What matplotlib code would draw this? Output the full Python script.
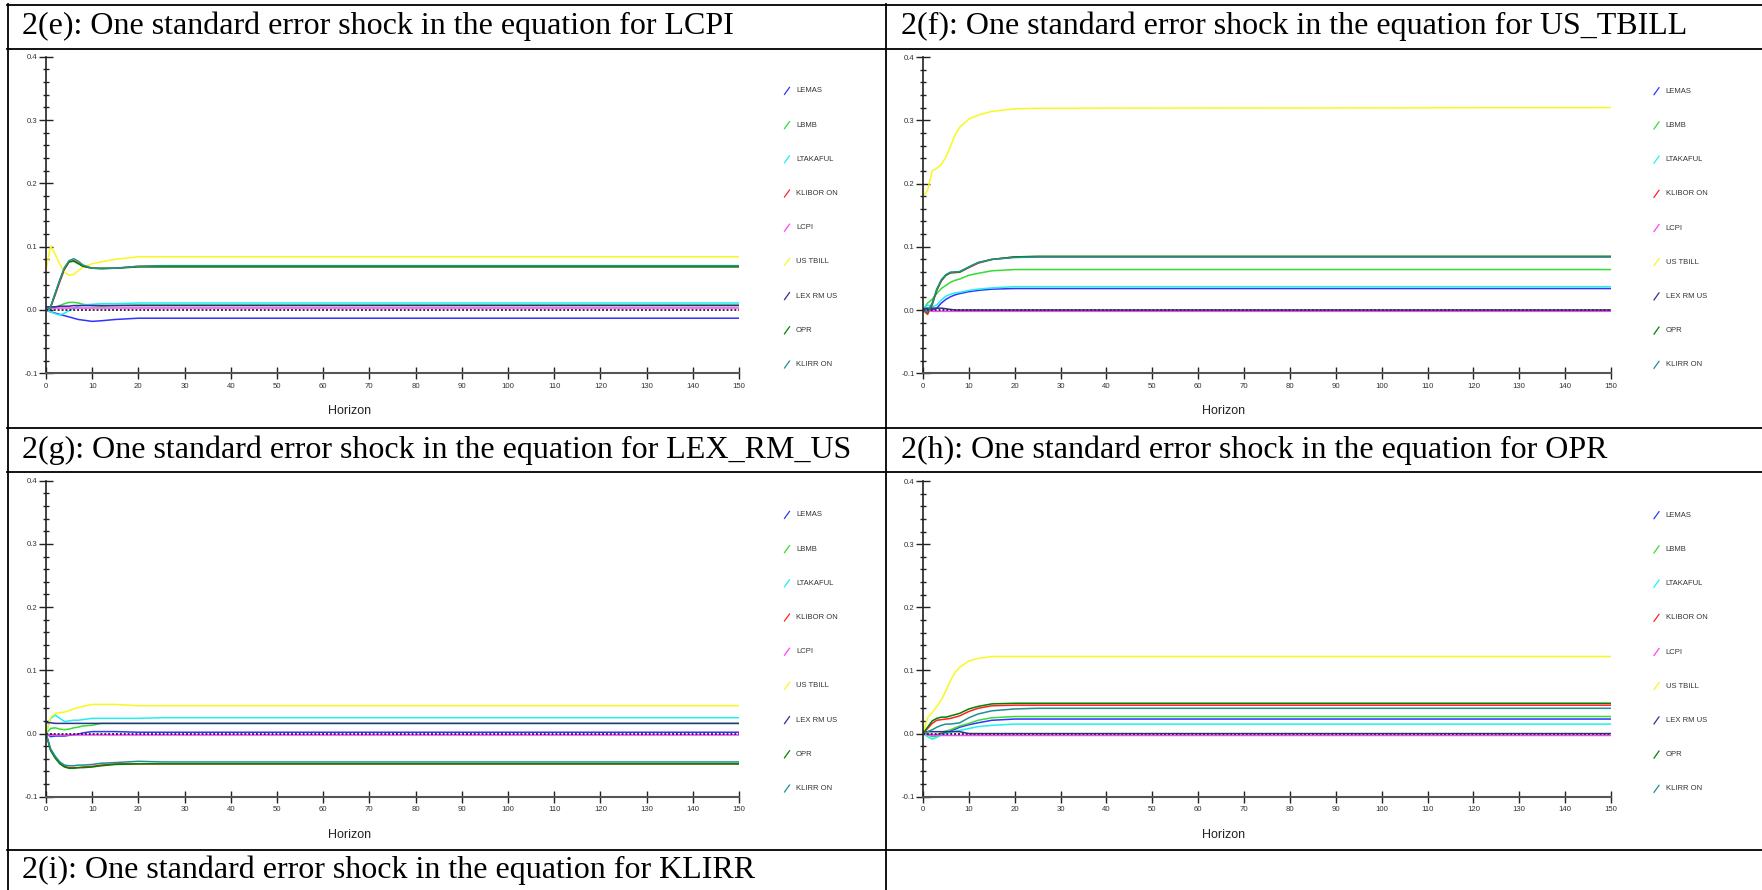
import matplotlib
matplotlib.use("Agg")
import matplotlib.pyplot as plt
from matplotlib.lines import Line2D
from matplotlib.ticker import MultipleLocator, FormatStrFormatter

# horizons at which the impulse responses are tabulated (flat after 25)
horizon = [0, 1, 2, 3, 4, 5, 6, 7, 8, 10, 12, 15, 20, 25, 150]

variables = ["LEMAS", "LBMB", "LTAKAFUL", "KLIBOR ON", "LCPI",
             "US TBILL", "LEX RM US", "OPR", "KLIRR ON"]
colors = ["#3333ff", "#33dd33", "#20f0f0", "#ff2020", "#ff40ff",
          "#f8f820", "#303090", "#008000", "#209090"]

# responses, one row per variable in the order above
shock_lcpi = [
    [0.000, -0.003, -0.005, -0.007, -0.009, -0.011, -0.013, -0.015, -0.016, -0.018, -0.017, -0.015, -0.013, -0.013, -0.013],
    [0.000, 0.002, 0.004, 0.007, 0.010, 0.012, 0.012, 0.011, 0.009, 0.007, 0.006, 0.007, 0.008, 0.008, 0.008],
    [0.000, -0.003, -0.006, -0.008, -0.005, -0.001, 0.003, 0.006, 0.008, 0.009, 0.010, 0.010, 0.011, 0.011, 0.011],
    [0.000, 0.004, 0.024, 0.045, 0.064, 0.076, 0.078, 0.074, 0.069, 0.066, 0.066, 0.066, 0.069, 0.069, 0.069],
    [0.003, 0.003, 0.003, 0.003, 0.003, 0.003, 0.003, 0.003, 0.003, 0.003, 0.003, 0.003, 0.003, 0.003, 0.003],
    [0.063, 0.101, 0.088, 0.072, 0.060, 0.055, 0.056, 0.062, 0.068, 0.073, 0.076, 0.080, 0.084, 0.084, 0.084],
    [0.005, 0.005, 0.005, 0.006, 0.006, 0.006, 0.007, 0.007, 0.007, 0.007, 0.007, 0.007, 0.007, 0.007, 0.007],
    [0.000, 0.005, 0.026, 0.047, 0.066, 0.076, 0.077, 0.073, 0.069, 0.066, 0.065, 0.066, 0.068, 0.068, 0.068],
    [0.000, 0.005, 0.027, 0.048, 0.067, 0.078, 0.081, 0.077, 0.071, 0.066, 0.066, 0.066, 0.069, 0.070, 0.070],
]

shock_us_tbill = [
    [0.000, 0.002, 0.000, 0.003, 0.011, 0.017, 0.021, 0.024, 0.026, 0.029, 0.031, 0.033, 0.034, 0.034, 0.034],
    [0.000, 0.011, 0.017, 0.026, 0.034, 0.039, 0.044, 0.047, 0.049, 0.055, 0.058, 0.062, 0.064, 0.064, 0.064],
    [0.000, 0.008, 0.005, 0.008, 0.016, 0.022, 0.025, 0.027, 0.028, 0.031, 0.033, 0.035, 0.037, 0.037, 0.037],
    [0.000, -0.007, 0.008, 0.031, 0.046, 0.055, 0.059, 0.059, 0.060, 0.067, 0.074, 0.080, 0.084, 0.084, 0.084],
    [0.000, -0.001, -0.002, -0.002, -0.002, -0.002, -0.002, -0.002, -0.002, -0.002, -0.002, -0.002, -0.002, -0.002, -0.002],
    [0.180, 0.189, 0.220, 0.224, 0.230, 0.242, 0.259, 0.277, 0.289, 0.302, 0.308, 0.314, 0.318, 0.319, 0.320],
    [0.002, 0.003, 0.003, 0.003, 0.003, 0.002, 0.001, 0.000, 0.000, 0.000, 0.000, 0.000, 0.000, 0.000, 0.000],
    [0.000, -0.004, 0.010, 0.032, 0.047, 0.055, 0.059, 0.060, 0.060, 0.068, 0.075, 0.080, 0.084, 0.085, 0.085],
    [0.000, -0.003, 0.011, 0.033, 0.048, 0.056, 0.060, 0.060, 0.061, 0.068, 0.075, 0.080, 0.083, 0.084, 0.084],
]

shock_lex_rm_us = [
    [0.000, -0.005, -0.004, -0.004, -0.004, -0.003, -0.002, -0.001, 0.001, 0.003, 0.003, 0.003, 0.002, 0.002, 0.002],
    [0.000, 0.008, 0.009, 0.007, 0.006, 0.007, 0.009, 0.010, 0.012, 0.013, 0.016, 0.016, 0.016, 0.016, 0.016],
    [0.000, 0.024, 0.029, 0.024, 0.019, 0.020, 0.021, 0.021, 0.022, 0.024, 0.024, 0.024, 0.024, 0.025, 0.025],
    [0.000, -0.026, -0.038, -0.047, -0.052, -0.054, -0.054, -0.054, -0.053, -0.052, -0.050, -0.048, -0.048, -0.048, -0.048],
    [-0.002, -0.002, -0.002, -0.002, -0.002, -0.002, -0.002, -0.002, -0.002, -0.002, -0.002, -0.002, -0.002, -0.002, -0.002],
    [0.000, 0.026, 0.032, 0.033, 0.034, 0.036, 0.039, 0.041, 0.043, 0.046, 0.046, 0.046, 0.044, 0.044, 0.044],
    [0.017, 0.017, 0.016, 0.016, 0.016, 0.016, 0.016, 0.016, 0.016, 0.016, 0.016, 0.016, 0.016, 0.016, 0.016],
    [0.000, -0.027, -0.039, -0.048, -0.053, -0.055, -0.055, -0.054, -0.054, -0.053, -0.051, -0.049, -0.048, -0.048, -0.048],
    [0.000, -0.024, -0.036, -0.045, -0.050, -0.051, -0.051, -0.050, -0.050, -0.049, -0.047, -0.046, -0.044, -0.045, -0.045],
]

shock_opr = [
    [0.000, -0.001, -0.003, -0.002, 0.000, 0.002, 0.004, 0.007, 0.010, 0.014, 0.017, 0.021, 0.023, 0.023, 0.023],
    [0.000, -0.002, -0.005, -0.004, 0.002, 0.004, 0.006, 0.009, 0.012, 0.016, 0.021, 0.025, 0.027, 0.027, 0.027],
    [0.000, -0.005, -0.009, -0.006, -0.002, 0.000, 0.002, 0.004, 0.005, 0.008, 0.011, 0.013, 0.015, 0.015, 0.015],
    [0.000, 0.008, 0.016, 0.021, 0.022, 0.023, 0.024, 0.026, 0.028, 0.035, 0.040, 0.044, 0.045, 0.045, 0.045],
    [0.000, -0.002, -0.003, -0.003, -0.003, -0.003, -0.003, -0.003, -0.003, -0.003, -0.003, -0.003, -0.003, -0.003, -0.003],
    [0.000, 0.025, 0.033, 0.043, 0.053, 0.068, 0.084, 0.097, 0.105, 0.115, 0.119, 0.122, 0.122, 0.122, 0.122],
    [0.002, 0.003, 0.003, 0.003, 0.003, 0.003, 0.003, 0.003, 0.003, 0.000, 0.000, 0.000, 0.000, 0.000, 0.000],
    [0.000, 0.010, 0.020, 0.024, 0.026, 0.026, 0.028, 0.030, 0.032, 0.039, 0.043, 0.047, 0.048, 0.048, 0.048],
    [0.000, 0.003, 0.006, 0.010, 0.013, 0.015, 0.015, 0.016, 0.017, 0.025, 0.031, 0.036, 0.039, 0.040, 0.040],
]

titles = ["2(e): One standard error shock in the equation for LCPI",
          "2(f): One standard error shock in the equation for US_TBILL",
          "2(g): One standard error shock in the equation for LEX_RM_US",
          "2(h): One standard error shock in the equation for OPR",
          "2(i): One standard error shock in the equation for KLIRR"]

W, H = 1762, 890
fig = plt.figure(figsize=(W / 100, H / 100), dpi=100)
SANS = "Liberation Sans"
SERIF = "Liberation Serif"


def fx(x):
    return x / W


def fy(y):
    return 1 - y / H


def rule(x0, y0, x1, y1, lw=1.3, color="black"):
    fig.add_artist(Line2D([fx(x0), fx(x1)], [fy(y0), fy(y1)], color=color,
                          lw=lw, transform=fig.transFigure))


# table grid
for y in [5, 49, 428, 472, 850]:
    rule(6.5, y, W, y)
rule(7.5, 4.3, 7.5, H)
rule(886.5, 4.3, 886.5, H)

# cell titles
title_pos = [(22, 34.3), (901, 34.3), (22, 458.3), (901, 458.3), (22, 878)]
for t, (x, y) in zip(titles, title_pos):
    fig.text(fx(x), fy(y), t, family=SERIF, fontsize=23, va="baseline", ha="left")


def panel(data, left, right, top, bottom, legend_x, label_x):
    ax = fig.add_axes([fx(left), fy(bottom), fx(right) - fx(left), fy(top) - fy(bottom)])
    ax.patch.set_alpha(0)
    for vals, c in zip(data, colors):
        ax.plot(horizon, vals, color=c, lw=1.1, solid_capstyle="butt")
    ax.axhline(0, color="#333333", lw=1.4, ls=(0, (1, 1)), zorder=5)
    ax.set_xlim(0, 150)
    ax.set_ylim(-0.1, 0.4)
    ax.set_xticks(range(0, 151, 10))
    ax.yaxis.set_major_locator(MultipleLocator(0.1))
    ax.yaxis.set_minor_locator(MultipleLocator(0.02))
    ax.yaxis.set_major_formatter(FormatStrFormatter("%.1f"))
    for s in ["top", "right"]:
        ax.spines[s].set_visible(False)
    ax.spines["left"].set_color("#222222")
    ax.spines["left"].set_linewidth(1.2)
    ax.spines["bottom"].set_color("#555555")
    ax.spines["bottom"].set_linewidth(1.5)
    ax.tick_params(axis="x", direction="inout", length=8.6, width=1.0, pad=2.5,
                   labelsize=5.6, color="#222222", labelcolor="#333333")
    ax.tick_params(axis="y", which="major", direction="inout", length=10, width=1.0,
                   pad=1, labelsize=5.6, color="#222222", labelcolor="#333333")
    ax.tick_params(axis="y", which="minor", direction="inout", length=4.3, width=1.0,
                   color="#222222")
    for lab in ax.get_xticklabels() + ax.get_yticklabels():
        lab.set_family(SANS)

    fig.text(fx(label_x), fy(bottom + 38), "Horizon", family=SANS,
             fontsize=9, ha="center", va="center", color="#222222")

    # series key on the right
    for i, (name, c) in enumerate(zip(variables, colors)):
        yy = top + 34.2 * (i + 1)
        rule(legend_x, yy + 3.5, legend_x + 5, yy - 3.5, lw=0.9, color=c)
        fig.text(fx(legend_x + 11.5), fy(yy), name, family=SANS, fontsize=5.5,
                 ha="left", va="center", color="#333333")
    return ax


panel(shock_lcpi, 46, 739, 56.7, 373.3, 784.5, 350)
panel(shock_us_tbill, 923, 1611, 57, 373.3, 1654, 1223.5)
panel(shock_lex_rm_us, 46, 739, 480.7, 796.7, 784.5, 350)
panel(shock_opr, 923, 1611, 481, 796.7, 1654, 1223.5)

fig.savefig("out.png", dpi=100)
